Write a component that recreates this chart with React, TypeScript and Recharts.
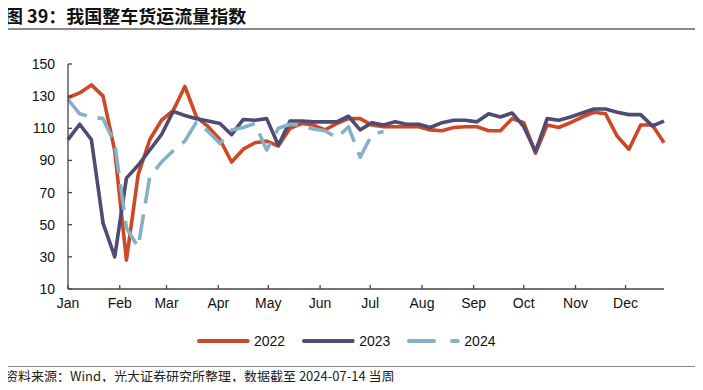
import { LineChart, Line, XAxis, YAxis } from "recharts"

// weekly index values, week 0 = first week of Jan
const s2022 = [
  129, 132, 137, 130, 96, 28, 81, 103, 115, 121,
  136, 117, 111, 103, 89, 97, 101, 102, 99, 110,
  113, 112, 109, 113, 116, 116, 112, 111, 111, 111,
  111, 109, 108.5, 110.5, 111, 111, 108.5, 108.5, 116, 113.5,
  94.5, 112, 110.5, 113.5, 117, 120, 119, 105, 97, 112,
  112, 101,
]
const s2023 = [
  103, 112.5, 103, 51, 30, 79, 87, 96.5, 106, 120.5,
  118, 116, 114.5, 113, 106, 115.5, 115, 116, 99.5, 114.5,
  114.5, 114, 114, 114, 117.5, 109, 113.5, 112, 114, 112.5,
  112.5, 110.5, 113.5, 115, 115, 114, 119, 117, 119.5, 111,
  95.5, 116, 115, 117, 119.5, 122, 122, 120, 118.5, 118.5,
  111.5, 114.5,
]
const s2024 = [
  128, 119, 117, 116, 100.5, 48, 36, 80, 89, 96,
  102, 114, 108, 100.5, 109, 110.5, 113, 96.5, 110, 112.5,
  111.5, 109.5, 108.5, 104, 111, 92, 106, 108,
]

const months = ["Jan", "Feb", "Mar", "Apr", "May", "Jun", "Jul", "Aug", "Sep", "Oct", "Nov", "Dec"]
// month starts expressed in weeks (day of year / 7)
const monthTicks = [0, 4.43, 8.43, 12.86, 17.14, 21.57, 25.86, 30.29, 34.71, 39, 43.43, 47.71]
const yTicks = [10, 30, 50, 70, 90, 110, 130, 150]

const data = s2022.map((v, i) => ({
  week: i,
  y2022: v,
  y2023: s2023[i],
  y2024: i < s2024.length ? s2024[i] : null,
}))

const RED = "#cf4825"
const DARK = "#4f4b72"
const BLUE = "#84b1c8"
const axisFont = { fontFamily: "'Liberation Sans', Arial, sans-serif", fontSize: 14, fill: "#111" }

function LegendItem({ color, label, dashed }: { color: string; label: string; dashed?: boolean }) {
  return (
    <div style={{ display: "flex", alignItems: "center", marginRight: 17 }}>
      <svg width={53} height={8}>
        <line
          x1={2} y1={4} x2={50.7} y2={4}
          stroke={color} strokeWidth={4} strokeLinecap="round"
          strokeDasharray={dashed ? "25 18" : undefined}
        />
      </svg>
      <span style={{ marginLeft: 4, fontSize: 14, color: "#111" }}>{label}</span>
    </div>
  )
}

export default function App() {
  return (
    <div style={{ position: "relative", width: 703, height: 390, margin: -8, background: "#fff", fontFamily: "'Liberation Sans', Arial, sans-serif", overflow: "hidden" }}>
      <div style={{
        position: "absolute", left: 5, top: 4, fontSize: 18, fontWeight: "bold", lineHeight: "22px",
        fontFamily: "'Noto Sans CJK SC', sans-serif", color: "#111",
      }}>
        图 39：我国整车货运流量指数
      </div>
      <div style={{ position: "absolute", left: 5, top: 28, width: 693, height: 2, background: "#8a8a8a" }} />

      <div style={{ position: "absolute", left: 0, top: 0 }}>
        <LineChart width={703} height={330} data={data} margin={{ top: 64, right: 39, bottom: 11, left: 8 }}>
          <XAxis
            dataKey="week" type="number" domain={[0, 51]} ticks={monthTicks}
            tickFormatter={(v: number) => months[monthTicks.indexOf(v)]}
            interval={0} height={30}
            axisLine={{ stroke: "#444", strokeWidth: 1.3 }}
            tickLine={{ stroke: "#444", strokeWidth: 1.3 }}
            tickSize={-4} tickMargin={13} tick={axisFont}
          />
          <YAxis
            type="number" domain={[10, 150]} ticks={yTicks} interval={0} width={60}
            axisLine={{ stroke: "#444", strokeWidth: 1.3 }}
            tickLine={{ stroke: "#444", strokeWidth: 1.3 }}
            tickSize={-4} tickMargin={17} tick={axisFont}
          />
          <Line dataKey="y2022" stroke={RED} strokeWidth={3.6} dot={false} isAnimationActive={false} strokeLinejoin="round" />
          <Line dataKey="y2023" stroke={DARK} strokeWidth={3.6} dot={false} isAnimationActive={false} strokeLinejoin="round" />
          <Line dataKey="y2024" stroke={BLUE} strokeWidth={3.6} dot={false} isAnimationActive={false} strokeDasharray="26 11" strokeLinejoin="round" />
        </LineChart>
      </div>

      <div style={{ position: "absolute", left: 197, top: 333, display: "flex" }}>
        <LegendItem color={RED} label="2022" />
        <LegendItem color={DARK} label="2023" />
        <LegendItem color={BLUE} label="2024" dashed />
      </div>

      <div style={{ position: "absolute", left: 5, top: 366, width: 693, height: 1, background: "#8a8a8a" }} />
      <div style={{
        position: "absolute", left: 5, top: 367, fontSize: 13, lineHeight: "17px", whiteSpace: "nowrap",
        fontFamily: "'Noto Sans CJK SC', sans-serif", color: "#222",
      }}>
        资料来源：Wind，光大证券研究所整理，数据截至 2024-07-14 当周
      </div>
    </div>
  )
}
